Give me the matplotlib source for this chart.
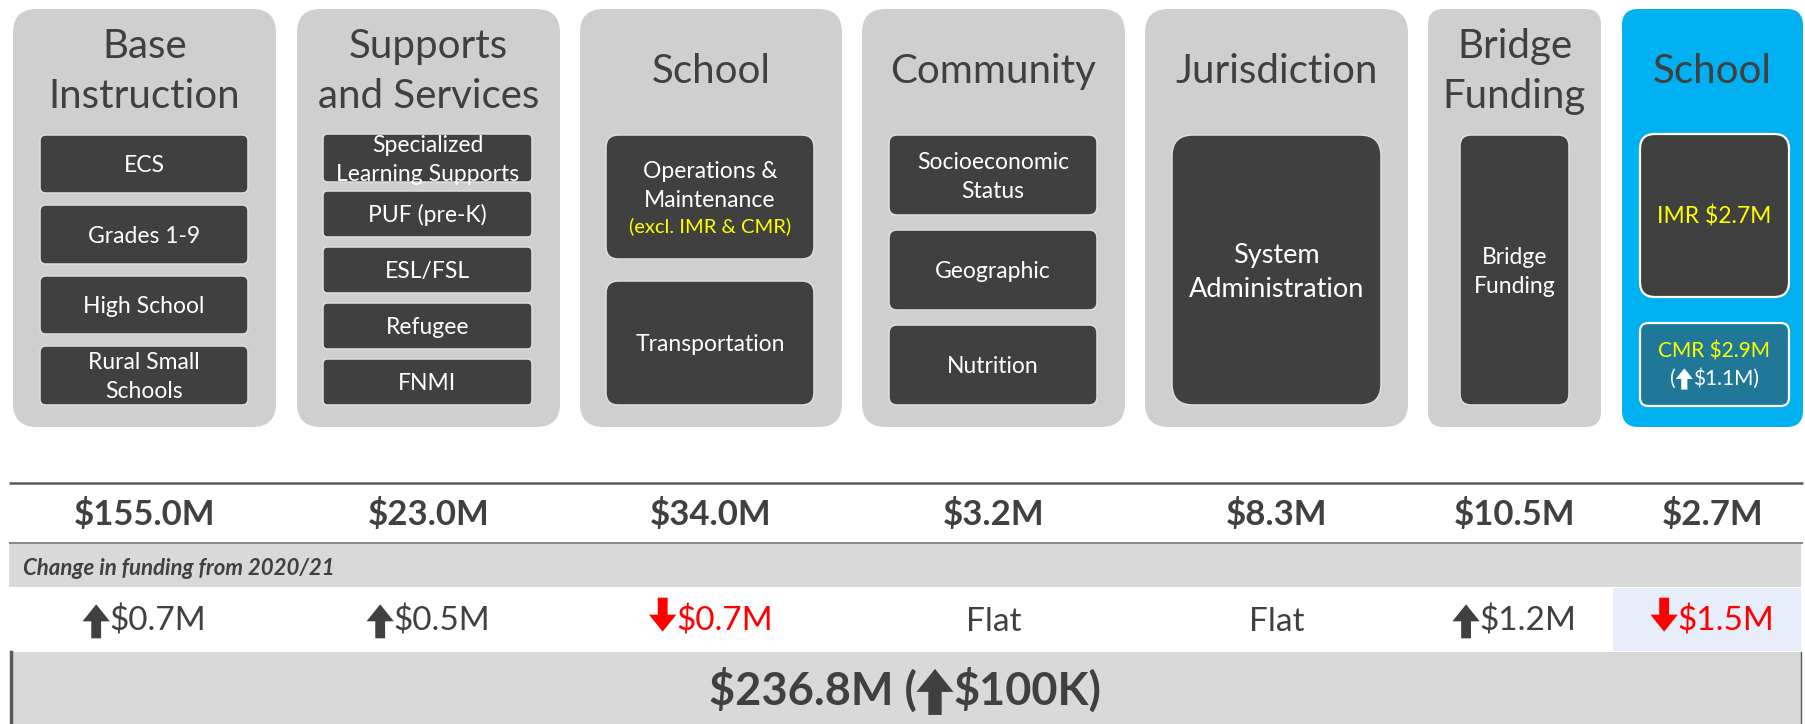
import matplotlib
matplotlib.use("Agg")
import matplotlib.pyplot as plt
from matplotlib.patches import FancyBboxPatch, Rectangle, Polygon

# ---- data ----
titles = ["Base\nInstruction", "Supports\nand Services", "School", "Community",
          "Jurisdiction", "Bridge\nFunding", "School"]
items = [
    ["ECS", "Grades 1-9", "High School", "Rural Small\nSchools"],
    ["Specialized\nLearning Supports", "PUF (pre-K)", "ESL/FSL", "Refugee", "FNMI"],
    ["Operations &\nMaintenance", "Transportation"],
    ["Socioeconomic\nStatus", "Geographic", "Nutrition"],
    ["System\nAdministration"],
    ["Bridge\nFunding"],
    ["IMR $2.7M", "CMR $2.9M"],
]
ops_note = "(excl. IMR & CMR)"
cmr_change = "$1.1M"
amounts = ["$155.0M", "$23.0M", "$34.0M", "$3.2M", "$8.3M", "$10.5M", "$2.7M"]
change_dir = ["up", "up", "down", "flat", "flat", "up", "down"]
change_amt = ["$0.7M", "$0.5M", "$0.7M", "Flat", "Flat", "$1.2M", "$1.5M"]
change_label = "Change in funding from 2020/21"
total = "$236.8M"
total_change = "$100K"

# ---- layout (pixels) ----
col_x0 = [13, 297, 580, 862, 1145, 1428, 1622]
col_x1 = [276, 560, 842, 1125, 1408, 1601, 1803]
in_x0 = [40, 323, 606, 889, 1172, 1460, 1640]
in_x1 = [248, 532, 814, 1097, 1381, 1569, 1789]
in_y = [
    [(135, 193), (205, 264), (276, 334), (346, 405)],
    [(134, 182), (191, 237), (247, 293), (303, 349), (359, 405)],
    [(135, 259), (281, 405)],
    [(135, 215), (230, 310), (325, 405)],
    [(135, 405)],
    [(135, 405)],
    [(134, 297), (323, 406)],
]

DARK = "#404040"
GREY = "#cfcfcf"
BAND = "#d9d9d9"
BLUE = "#00b0f0"
YEL = "#ffff00"
RED = "#ff0000"
F = ["Lato", "DejaVu Sans"]

fig = plt.figure(figsize=(18.06, 7.24), dpi=100)
ax = fig.add_axes([0, 0, 1, 1])
ax.set_xlim(0, 1806)
ax.set_ylim(724, 0)
ax.axis("off")
rend = fig.canvas.get_renderer()


def rbox(x0, y0, x1, y1, fc, ec="none", lw=0, frac=0.1):
    w, h = x1 - x0, y1 - y0
    r = frac * min(w, h)
    ax.add_patch(FancyBboxPatch((x0, y0), w, h,
                                boxstyle="round,pad=0,rounding_size=%g" % r,
                                fc=fc, ec=ec, lw=lw))


def arrow(x0, base, em, up, color):
    # block arrow like the wingdings glyph
    W = 0.82 * em
    H = 1.02 * em
    if up:
        yb = base + 0.22 * em
    else:
        yb = base + 0.02 * em
    yt = yb - H
    hh = 0.5 * H
    sw = 0.36 * W
    cx = x0 + W / 2
    if up:
        pts = [(cx, yt), (x0 + W, yt + hh), (cx + sw / 2, yt + hh), (cx + sw / 2, yb),
               (cx - sw / 2, yb), (cx - sw / 2, yt + hh), (x0, yt + hh)]
    else:
        pts = [(cx, yb), (x0 + W, yb - hh), (cx + sw / 2, yb - hh), (cx + sw / 2, yt),
               (cx - sw / 2, yt), (cx - sw / 2, yb - hh), (x0, yb - hh)]
    ax.add_patch(Polygon(pts, closed=True, fc=color, ec="none"))


def seq(cx, base, pieces, fs, color, weight="normal"):
    em = fs * 100 / 72
    objs, widths = [], []
    for p in pieces:
        if p in ("UP", "DOWN"):
            objs.append(p)
            widths.append(0.82 * em)
        else:
            t = ax.text(0, base, p.replace("$", r"\$"), family=F, fontsize=fs,
                        weight=weight, color=color, ha="left", va="baseline")
            objs.append(t)
            widths.append(t.get_window_extent(rend).width)
    x = cx - sum(widths) / 2
    for o, w in zip(objs, widths):
        if o in ("UP", "DOWN"):
            arrow(x, base, em, o == "UP", color)
        else:
            o.set_x(x)
        x += w


for i in range(7):
    cx = (col_x0[i] + col_x1[i]) / 2
    rbox(col_x0[i], 9, col_x1[i], 427, BLUE if i == 6 else GREY, frac=0.09)
    tl = titles[i].split("\n")
    base = [58, 108] if len(tl) == 2 else [83]
    for t, b in zip(tl, base):
        ax.text(cx, b, t, family=F, fontsize=29, color=DARK, ha="center", va="baseline")

    icx = (in_x0[i] + in_x1[i]) / 2
    for j, lab in enumerate(items[i]):
        y0, y1 = in_y[i][j]
        fc = "#1f7898" if (i == 6 and j == 1) else DARK
        ec = "white" if i == 6 else "#dedede"
        rbox(in_x0[i], y0, in_x1[i], y1, fc, ec=ec, lw=1.6 if i == 6 else 1.1)
        lines = lab.split("\n")
        fs, sp, cap = 16.5, 29, 16.5
        if i == 4:
            fs, sp, cap = 19.5, 34, 19.5
        col = YEL if i == 6 else "white"
        yc = (y0 + y1) / 2
        if (i, j) == (2, 0):
            for t, b in zip(lines, [178, 207]):
                ax.text(icx, b, t, family=F, fontsize=fs, color="white",
                        ha="center", va="baseline")
            ax.text(icx, 232, ops_note, family=F, fontsize=14.5, color=YEL,
                    ha="center", va="baseline")
            continue
        if (i, j) == (6, 1):
            ax.text(icx, 358, lines[0].replace("$", r"\$"), family=F, fontsize=15,
                    color=YEL, ha="center", va="baseline")
            seq(icx, 385, ["(", "UP", cmr_change + ")"], 15, "white")
            continue
        n = len(lines)
        for k, t in enumerate(lines):
            b = yc + cap / 2 + (k - (n - 1) / 2) * sp
            ax.text(icx, b, t.replace("$", r"\$"), family=F, fontsize=fs, color=col,
                    ha="center", va="baseline")

# ---- bottom table ----
ax.plot([9, 1803], [483, 483], color="#595959", lw=1.8, solid_capstyle="butt")
ax.add_patch(Rectangle((9, 543), 1792, 44, fc=BAND, ec="none"))
ax.plot([9, 1803], [543, 543], color="#7f7f7f", lw=1.3, solid_capstyle="butt")
ax.add_patch(Rectangle((1613, 588), 188, 63, fc="#e7edf9", ec="none"))
ax.add_patch(Rectangle((10, 652), 1791, 80, fc=BAND, ec="none"))
ax.plot([11, 11], [652, 724], color="#595959", lw=2.5)
ax.plot([1801, 1801], [652, 724], color="#595959", lw=1.0)

ax.text(23, 575, change_label, family=F, fontsize=16, style="italic",
        weight="bold", color=DARK, ha="left", va="baseline")

for i in range(7):
    cx = (col_x0[i] + col_x1[i]) / 2
    ax.text(cx, 525, amounts[i].replace("$", r"\$"), family=F, fontsize=25,
            weight="bold", color=DARK, ha="center", va="baseline")
    if change_dir[i] == "up":
        seq(cx, 631, ["UP", change_amt[i]], 24, DARK)
    elif change_dir[i] == "down":
        seq(cx, 631, ["DOWN", change_amt[i]], 24, RED)
    else:
        seq(cx, 631, [change_amt[i]], 24, DARK)

seq(905, 705, [total + " (", "UP", total_change + ")"], 32.5, DARK, weight="bold")

fig.savefig("out.png", dpi=100)
